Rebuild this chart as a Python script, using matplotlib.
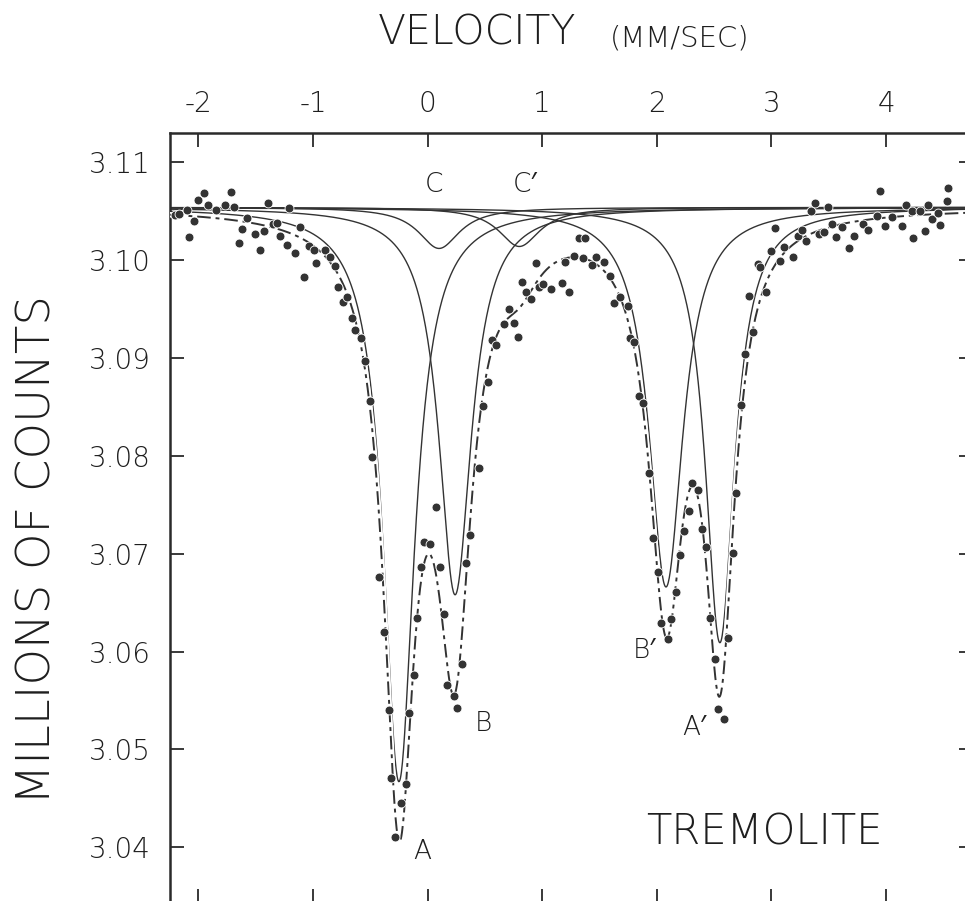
import matplotlib
matplotlib.use("Agg")
import matplotlib.pyplot as plt
import numpy as np

# thin, wide lettering close to the stencil look of the original
plt.rcParams["font.family"] = ["DejaVu Sans", "Noto Sans"]
plt.rcParams["font.weight"] = "light"

# measured counts (millions) vs source velocity (mm/s)
velocity = [
    -2.20, -2.17, -2.098, -2.078, -2.040, -2.005, -1.953, -1.915, -1.845, -1.764,
    -1.714, -1.691, -1.648, -1.618, -1.575, -1.502, -1.459, -1.424, -1.392, -1.351,
    -1.313, -1.284, -1.226, -1.206, -1.153, -1.113, -1.081, -1.031, -0.994, -0.973,
    -0.892, -0.851, -0.805, -0.785, -0.741, -0.703, -0.659, -0.630, -0.581, -0.543,
    -0.500, -0.485, -0.427, -0.384, -0.340, -0.316, -0.282, -0.232, -0.188, -0.166,
    -0.116, -0.093, -0.058, -0.029, 0.024, 0.073, 0.111, 0.140, 0.169, 0.227,
    0.256, 0.300, 0.337, 0.372, 0.445, 0.483, 0.527, 0.561, 0.596, 0.669,
    0.712, 0.750, 0.793, 0.823, 0.861, 0.904, 0.945, 0.974, 1.006, 1.076,
    1.172, 1.200, 1.235, 1.273, 1.317, 1.360, 1.375, 1.433, 1.468, 1.541,
    1.593, 1.630, 1.680, 1.747, 1.767, 1.805, 1.848, 1.883, 1.935, 1.965,
    2.009, 2.037, 2.096, 2.125, 2.166, 2.203, 2.238, 2.282, 2.305, 2.357,
    2.392, 2.430, 2.465, 2.508, 2.537, 2.589, 2.624, 2.663, 2.689, 2.732,
    2.770, 2.807, 2.842, 2.886, 2.901, 2.953, 2.997, 3.031, 3.075, 3.110,
    3.186, 3.229, 3.264, 3.302, 3.345, 3.380, 3.415, 3.459, 3.496, 3.531,
    3.561, 3.613, 3.679, 3.720, 3.801, 3.840, 3.918, 3.947, 3.990, 4.049,
    4.136, 4.171, 4.223, 4.237, 4.296, 4.339, 4.368, 4.403, 4.455, 4.470,
    4.528, 4.542,
]
counts = [
    3.1046, 3.1047, 3.1051, 3.1024, 3.1040, 3.1062, 3.1069, 3.1056, 3.1051, 3.1056,
    3.1070, 3.1054, 3.1018, 3.1032, 3.1043, 3.1027, 3.1010, 3.1030, 3.1058, 3.1037,
    3.1038, 3.1025, 3.1016, 3.1053, 3.1007, 3.1034, 3.0983, 3.1014, 3.1010, 3.0997,
    3.1010, 3.1003, 3.0994, 3.0973, 3.0957, 3.0962, 3.0941, 3.0929, 3.0920, 3.0897,
    3.0856, 3.0799, 3.0676, 3.0620, 3.0540, 3.0471, 3.0410, 3.0445, 3.0465, 3.0537,
    3.0576, 3.0634, 3.0686, 3.0712, 3.0710, 3.0748, 3.0686, 3.0638, 3.0566, 3.0555,
    3.0542, 3.0587, 3.0690, 3.0719, 3.0788, 3.0851, 3.0876, 3.0918, 3.0913, 3.0935,
    3.0950, 3.0936, 3.0921, 3.0978, 3.0967, 3.0960, 3.0997, 3.0973, 3.0976, 3.0971,
    3.0977, 3.0998, 3.0967, 3.1004, 3.1023, 3.1002, 3.1023, 3.0995, 3.1003, 3.0998,
    3.0984, 3.0956, 3.0962, 3.0953, 3.0920, 3.0916, 3.0861, 3.0854, 3.0783, 3.0716,
    3.0681, 3.0629, 3.0613, 3.0633, 3.0661, 3.0699, 3.0723, 3.0744, 3.0772, 3.0765,
    3.0725, 3.0707, 3.0634, 3.0592, 3.0541, 3.0531, 3.0614, 3.0701, 3.0762, 3.0852,
    3.0904, 3.0963, 3.0927, 3.0996, 3.0993, 3.0967, 3.1009, 3.1033, 3.0999, 3.1013,
    3.1003, 3.1025, 3.1031, 3.1020, 3.1050, 3.1058, 3.1027, 3.1029, 3.1054, 3.1037,
    3.1024, 3.1034, 3.1012, 3.1025, 3.1037, 3.1031, 3.1045, 3.1071, 3.1035, 3.1044,
    3.1035, 3.1056, 3.1050, 3.1023, 3.1050, 3.1030, 3.1056, 3.1042, 3.1048, 3.1036,
    3.1060, 3.1074,
]

# fitted Lorentzian absorption lines: A, B, C, C', B', A'
line_names = ["A", "B", "C", "C'", "B'", "A'"]
line_center = [-0.25, 0.24, 0.10, 0.80, 2.08, 2.55]   # mm/s
line_depth = [0.0587, 0.0396, 0.0042, 0.0040, 0.0388, 0.0445]
line_hwhm = [0.165, 0.172, 0.22, 0.22, 0.180, 0.155]
baseline = 3.1054

# ---- figure ----
W, H = 965, 901
fig = plt.figure(figsize=(W / 100, H / 100), dpi=100)

xlim = (-2.247, 4.758)
ylim = (3.0343, 3.1130)
# axes frame in pixels (left, right, top, bottom); right and bottom run past the scan edge
left_px, right_px, top_px, bot_px = 170, 973, 133, 903
ax = fig.add_axes([left_px / W, 1 - bot_px / H, (right_px - left_px) / W, (bot_px - top_px) / H])
ax.set_xlim(*xlim)
ax.set_ylim(*ylim)

ink = "#333333"
txt = "#1e1e1e"
v = np.linspace(xlim[0], xlim[1], 1500)
total = np.full_like(v, baseline)
for c, d, g in zip(line_center, line_depth, line_hwhm):
    dip = d * g**2 / ((v - c) ** 2 + g**2)
    total -= dip
    ax.plot(v, baseline - dip, color=ink, lw=1.0, zorder=2)

ax.plot(v, total, color="white", lw=4, zorder=3)
ax.plot(v, total, color=ink, lw=1.4, ls=(0, (7, 2.5, 2, 2.5)), zorder=4)
ax.plot(velocity, counts, "o", ms=6.4, color=ink, mec="white", mew=0.6, zorder=5)

# axes styling
for s in ax.spines.values():
    s.set_linewidth(1.8)
    s.set_color("#2a2a2a")
ax.set_xticks(np.arange(-2, 5, 1))
ax.set_yticks([3.04, 3.05, 3.06, 3.07, 3.08, 3.09, 3.10, 3.11])
ax.xaxis.set_ticks_position("both")
ax.yaxis.set_ticks_position("both")
ax.tick_params(axis="both", direction="in", length=10, width=1.3, color="#2a2a2a")
ax.tick_params(axis="x", labeltop=True, labelbottom=False, labelsize=20, pad=11,
               labelcolor=txt)
ax.tick_params(axis="y", labelleft=True, labelright=False, labelsize=20, pad=14,
               labelcolor=txt)
ax.set_xticklabels(["-2", "-1", "0", "1", "2", "3", "4"])
ax.set_yticklabels(["3.04", "3.05", "3.06", "3.07", "3.08", "3.09", "3.10", "3.11"])

# peak labels
label_pos = {
    "A": (-0.049, 3.0396), "B": (0.483, 3.0526), "C": (0.058, 3.1077),
    "C'": (0.851, 3.1077), "B'": (1.89, 3.0601), "A'": (2.33, 3.0522),
}
for name in line_names:
    x, y = label_pos[name]
    ax.text(x, y, name.replace("'", "\u2032"), fontsize=19, color=txt,
            ha="center", va="center")
ax.text(2.934, 3.0416, "TREMOLITE", fontsize=30, color=txt, ha="center", va="center")

fig.text(378 / W, 1 - 33 / H, "VELOCITY", fontsize=29.5, color=txt,
         ha="left", va="center")
fig.text(610 / W, 1 - 38 / H, "(MM/SEC)", fontsize=21, color=txt,
         ha="left", va="center")
fig.text(38 / W, 1 - 550 / H, "MILLIONS OF COUNTS", fontsize=33.5, color=txt,
         ha="center", va="center", rotation=90)

fig.savefig("out.png", dpi=100)
